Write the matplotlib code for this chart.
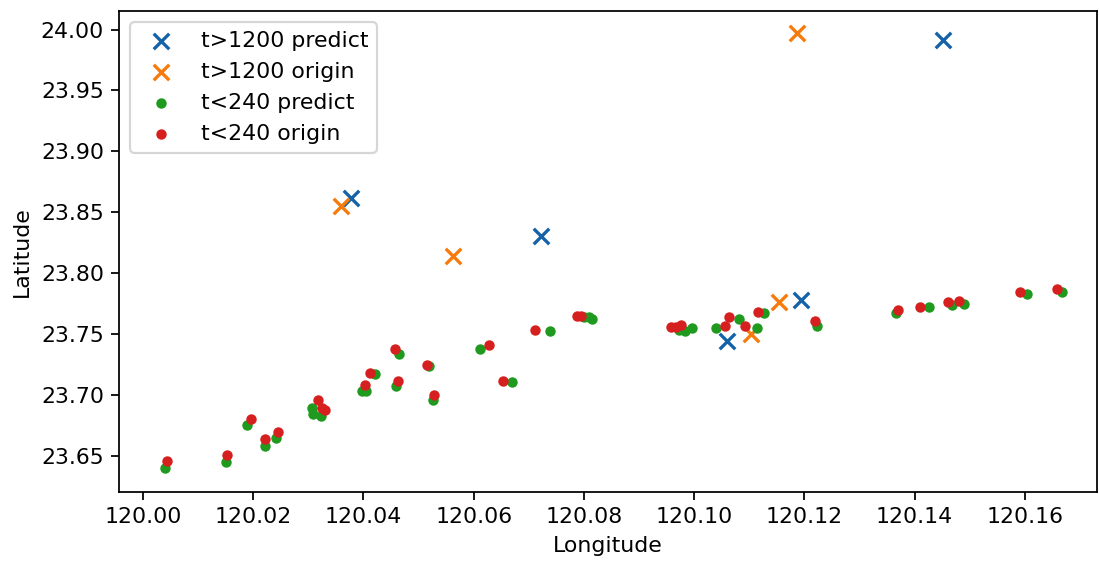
import matplotlib
matplotlib.use("Agg")
import matplotlib.pyplot as plt

# t>1200 points
far_pred_lon = [120.0378, 120.0722, 120.1060, 120.1193, 120.1452]
far_pred_lat = [23.8618, 23.8307, 23.7441, 23.7784, 23.9910]
far_orig_lon = [120.0360, 120.0562, 120.1103, 120.1154, 120.1186]
far_orig_lat = [23.8553, 23.8144, 23.7498, 23.7768, 23.9975]

# t<240 points
near_pred_lon = [120.0040, 120.0150, 120.0188, 120.0221, 120.0242,
                 120.0307, 120.0309, 120.0322, 120.0398, 120.0405,
                 120.0420, 120.0465, 120.0459, 120.0519, 120.0526,
                 120.0611, 120.0669, 120.0738, 120.0801, 120.0810,
                 120.0814, 120.0973, 120.0984, 120.0996, 120.1040,
                 120.1081, 120.1114, 120.1127, 120.1222, 120.1367,
                 120.1427, 120.1468, 120.1490, 120.1604, 120.1667]
near_pred_lat = [23.6402, 23.6451, 23.6754, 23.6582, 23.6648,
                 23.6893, 23.6844, 23.6828, 23.7032, 23.7032,
                 23.7171, 23.7334, 23.7073, 23.7236, 23.6958,
                 23.7375, 23.7105, 23.7522, 23.7645, 23.7645,
                 23.7621, 23.7531, 23.7522, 23.7547, 23.7547,
                 23.7621, 23.7547, 23.7670, 23.7563, 23.7670,
                 23.7719, 23.7743, 23.7751, 23.7833, 23.7850]
near_orig_lon = [120.0044, 120.0152, 120.0195, 120.0221, 120.0244,
                 120.0318, 120.0325, 120.0331, 120.0403, 120.0412,
                 120.0458, 120.0463, 120.0515, 120.0528, 120.0627,
                 120.0653, 120.0712, 120.0787, 120.0794, 120.0958,
                 120.0967, 120.0976, 120.1056, 120.1063, 120.1092,
                 120.1116, 120.1219, 120.1369, 120.1410, 120.1461,
                 120.1481, 120.1591, 120.1659]
near_orig_lat = [23.6460, 23.6509, 23.6803, 23.6639, 23.6697,
                 23.6958, 23.6893, 23.6877, 23.7081, 23.7179,
                 23.7375, 23.7114, 23.7244, 23.6999, 23.7408,
                 23.7114, 23.7531, 23.7653, 23.7653, 23.7555,
                 23.7555, 23.7572, 23.7563, 23.7637, 23.7563,
                 23.7686, 23.7612, 23.7702, 23.7727, 23.7760,
                 23.7776, 23.7850, 23.7874]

DPI = 158
fig = plt.figure(figsize=(1099 / DPI, 561 / DPI), dpi=DPI)
ax = fig.add_axes([0.1086, 0.123, 0.8896, 0.857])

ax.scatter(far_pred_lon, far_pred_lat, marker='x', s=50, color='#1462a8', label='t>1200 predict')
ax.scatter(far_orig_lon, far_orig_lat, marker='x', s=50, color='#f77b0c', label='t>1200 origin')
ax.scatter(near_pred_lon, near_pred_lat, s=14, color='#1f9a1f', label='t<240 predict')
ax.scatter(near_orig_lon, near_orig_lat, s=14, color='#d62020', label='t<240 origin')

ax.set_xlim(119.9957, 120.1731)
ax.set_ylim(23.6205, 24.0150)
ax.set_xlabel('Longitude')
ax.set_ylabel('Latitude')
ax.legend(loc='upper left')

fig.savefig('out.png', dpi=DPI)
